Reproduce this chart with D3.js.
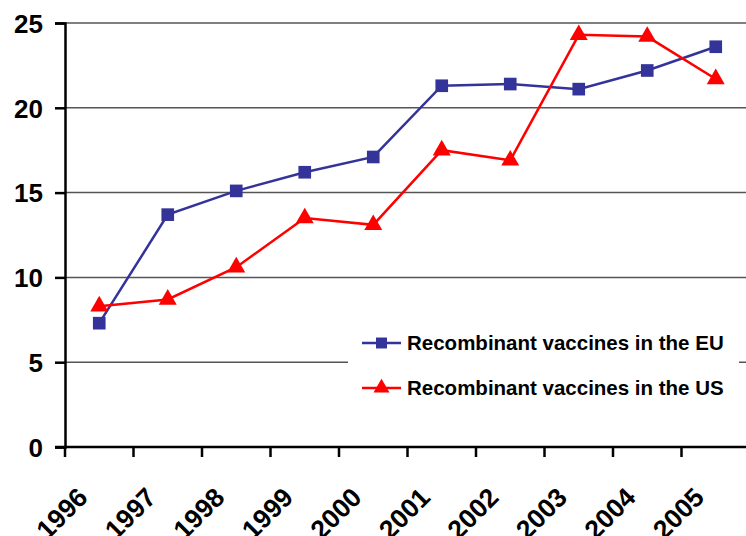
<!DOCTYPE html>
<html>
<head>
<meta charset="utf-8">
<script src="https://cdn.jsdelivr.net/npm/d3@7"></script>
<style>
  body { margin: 0; background: #fff; }
  svg text { font-family: "Liberation Sans", Arial, sans-serif; font-weight: bold; fill: #000; }
</style>
</head>
<body>
<svg id="chart" width="746" height="536"></svg>
<script>
// data
const years = ['1996', '1997', '1998', '1999', '2000', '2001', '2002', '2003', '2004', '2005'];
const euValues = [7.3, 13.7, 15.1, 16.2, 17.1, 21.3, 21.4, 21.1, 22.2, 23.6];
const usValues = [8.3, 8.7, 10.6, 13.5, 13.1, 17.5, 16.9, 24.3, 24.2, 21.7];
const yTicks = [0, 5, 10, 15, 20, 25];
const seriesNames = ['Recombinant vaccines in the EU', 'Recombinant vaccines in the US'];

const blue = '#333399';
const red = '#ff0000';

var svg = d3.select('#chart');
var plotLeft = 65, plotRight = 750, plotTop = 23, plotBottom = 447;

var x = d3.scaleBand().domain(years).range([plotLeft, plotRight]);
var y = d3.scaleLinear().domain([0, 25]).range([plotBottom, plotTop]);

// gridlines
svg.append('g')
  .selectAll('line')
  .data(yTicks.filter(d => d > 0))
  .join('line')
  .attr('x1', plotLeft).attr('x2', plotRight)
  .attr('y1', d => y(d)).attr('y2', d => y(d))
  .attr('stroke', '#555').attr('stroke-width', 1.5);

// legend background hides part of the 5 gridline
svg.append('rect')
  .attr('x', 348).attr('y', 322).attr('width', 391).attr('height', 86)
  .attr('fill', '#fff');

// y axis
var yAxis = svg.append('g')
  .attr('transform', 'translate(' + plotLeft + ',0)')
  .call(d3.axisLeft(y).tickValues(yTicks).tickSize(10).tickPadding(12));
yAxis.select('.domain').attr('stroke', '#000').attr('stroke-width', 2.5);
yAxis.selectAll('.tick line').attr('stroke', '#000').attr('stroke-width', 2.5);
yAxis.selectAll('.tick text').style('font-size', '26px').attr('dy', '0.36em');

// x axis, ticks at band edges
var xAxis = svg.append('g')
  .attr('transform', 'translate(0,' + plotBottom + ')');
xAxis.append('line')
  .attr('x1', plotLeft - 10).attr('x2', plotRight)
  .attr('stroke', '#000').attr('stroke-width', 2.5);
xAxis.selectAll('line.tk')
  .data(years)
  .join('line')
  .attr('class', 'tk')
  .attr('x1', d => x(d)).attr('x2', d => x(d))
  .attr('y1', 0).attr('y2', 10)
  .attr('stroke', '#000').attr('stroke-width', 2.5);
xAxis.selectAll('text')
  .data(years)
  .join('text')
  .attr('text-anchor', 'end')
  .attr('transform', d => 'translate(' + (x(d) + x.bandwidth() / 2 - 10) + ',52) rotate(-45)')
  .style('font-size', '26.5px')
  .text(d => d);

// lines
var line = d3.line()
  .x((d, i) => x(years[i]) + x.bandwidth() / 2)
  .y(d => y(d));

function drawSeries(values, color, shape) {
  svg.append('path')
    .datum(values)
    .attr('d', line)
    .attr('fill', 'none')
    .attr('stroke', color)
    .attr('stroke-width', 2.5);
  svg.append('g')
    .selectAll('path')
    .data(values)
    .join('path')
    .attr('d', d3.symbol().type(shape).size(shape === d3.symbolSquare ? 160 : 140))
    .attr('transform', (d, i) => 'translate(' + (x(years[i]) + x.bandwidth() / 2) + ',' + y(d) + ')')
    .attr('fill', color);
}

drawSeries(euValues, blue, d3.symbolSquare);
drawSeries(usValues, red, d3.symbolTriangle);

// legend
var legend = svg.append('g');
var legendItems = [
  { name: seriesNames[0], color: blue, shape: d3.symbolSquare, y: 343 },
  { name: seriesNames[1], color: red, shape: d3.symbolTriangle, y: 388 }
];
legendItems.forEach(function(it) {
  legend.append('line')
    .attr('x1', 362).attr('x2', 401)
    .attr('y1', it.y).attr('y2', it.y)
    .attr('stroke', it.color).attr('stroke-width', 2.5);
  legend.append('path')
    .attr('d', d3.symbol().type(it.shape).size(it.shape === d3.symbolSquare ? 120 : 110))
    .attr('transform', 'translate(381.5,' + it.y + ')')
    .attr('fill', it.color);
  legend.append('text')
    .attr('x', 407).attr('y', it.y + 7)
    .style('font-size', '20.5px')
    .text(it.name);
});
</script>
</body>
</html>
